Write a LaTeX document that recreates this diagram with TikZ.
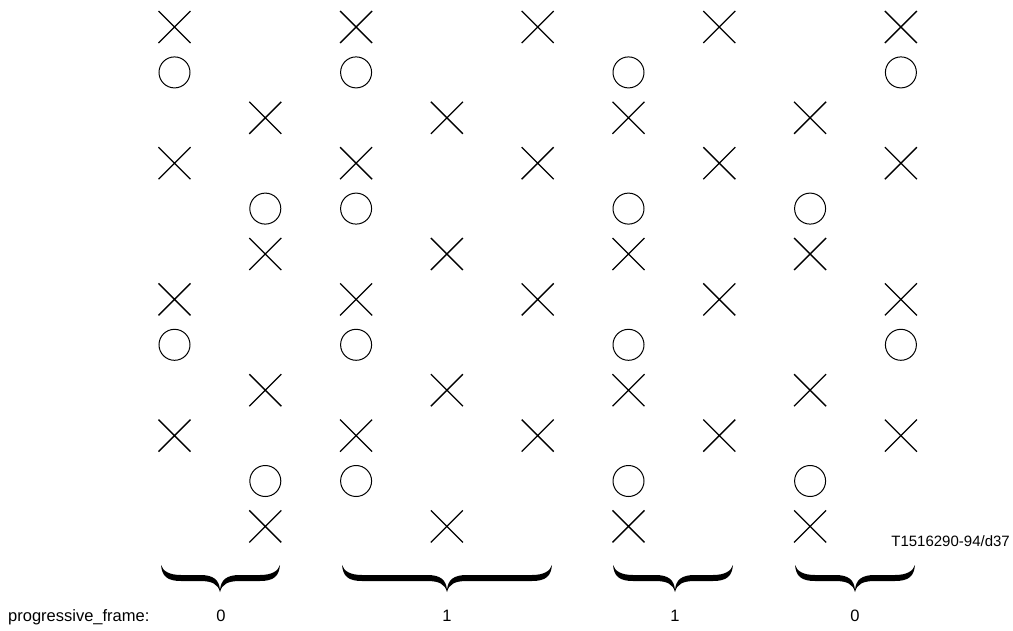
\documentclass[tikz,border=0pt]{standalone}
\usepackage{fontspec}
\setmainfont{Liberation Sans}
\usetikzlibrary{shapes.misc}
\newcommand\fieldbrace[3]{%
  \fill (#1,565) .. controls ({#1+1},576) and ({#1+6},581) .. ({#1+20},581)
    -- ({#3-20},581) .. controls ({#3-8},581) and ({#3-2},584) .. (#3,592)
    .. controls ({#3+2},584) and ({#3+8},581) .. ({#3+20},581)
    -- ({#2-20},581) .. controls ({#2-6},581) and ({#2-1},576) .. (#2,565)
    .. controls ({#2-2},571) and ({#2-8},575) .. ({#2-20},575)
    -- ({#3+20},575) .. controls ({#3+6},575) and ({#3+1},580) .. (#3,590)
    .. controls ({#3-1},580) and ({#3-6},575) .. ({#3-20},575)
    -- ({#1+20},575) .. controls ({#1+8},575) and ({#1+2},571) .. (#1,565) -- cycle;}
\begin{document}
\begin{tikzpicture}[x=1pt,y=-1pt,
  xmark/.style={cross out,draw,line width=1.3pt,minimum size=32pt,inner sep=0pt,outer sep=0pt},
  omark/.style={circle,draw,line width=1pt,minimum size=31pt,inner sep=0pt},
  lbl/.style={inner sep=0pt,font=\fontsize{16.5}{20}\selectfont}]
\useasboundingbox (0,0) rectangle (1013,630);
\foreach \r/\cols in {0/{0,2,4,6,8},3/{0,2,4,6,8},6/{0,2,4,6,8},9/{0,2,4,6,8},
                      2/{1,3,5,7},5/{1,3,5,7},8/{1,3,5,7},11/{1,3,5,7}}{
  \foreach \c in \cols {
    \node[xmark] (x-\r-\c) at ({174.5+90.8*\c},{27+45.4*\r}) {};
  }
}
\foreach \r/\cols in {1/{0,2,5,8},7/{0,2,5,8},4/{1,2,5,7},10/{1,2,5,7}}{
  \foreach \c in \cols {
    \node[omark] (o-\r-\c) at ({174.5+90.8*\c},{27+45.4*\r}) {};
  }
}
\fieldbrace{161}{280}{220}
\fieldbrace{342}{552}{447}
\fieldbrace{613}{733}{675}
\fieldbrace{795}{915}{855}
\node[lbl,anchor=base west] (pf) at (8,621) {progressive\_frame:};
\node[lbl,anchor=base] (v0) at (221,621) {0};
\node[lbl,anchor=base] (v1) at (447,621) {1};
\node[lbl,anchor=base] (v2) at (675,621) {1};
\node[lbl,anchor=base] (v3) at (855,621) {0};
\node[inner sep=0pt,anchor=base east,font=\fontsize{15}{18}\selectfont] (tag) at (1010,546) {T1516290-94/d37};
\end{tikzpicture}
\end{document}
